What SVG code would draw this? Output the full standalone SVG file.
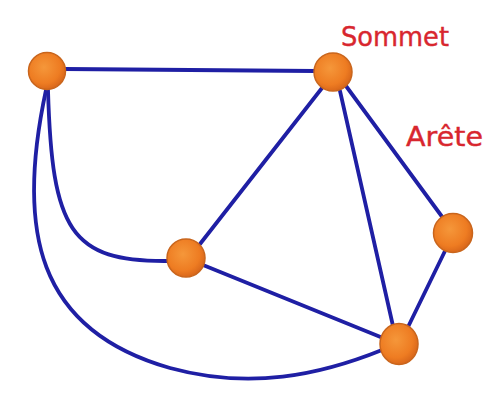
<svg xmlns="http://www.w3.org/2000/svg" width="504" height="412" viewBox="0 0 504 412">
<style>
.edge{fill:none;stroke:#1f1fa4;stroke-width:3.8;stroke-linecap:round}
.node{fill:url(#og);stroke:#c9651c;stroke-width:1.5}
.lbl{font-family:"DejaVu Sans","Liberation Sans",sans-serif;font-size:27px;fill:#d8262e;stroke:#d8262e;stroke-width:0.4}
</style>
<defs>
<radialGradient id="og" cx="0.42" cy="0.4" r="0.62">
<stop offset="0" stop-color="#f5973a"/>
<stop offset="0.7" stop-color="#ee7c22"/>
<stop offset="1" stop-color="#d8661a"/>
</radialGradient>
</defs>
<rect width="504" height="412" fill="#ffffff"/>
<g id="edges">
<path class="edge" d="M65,69 L315,71"/>
<path class="edge" d="M322,88 L200,244"/>
<path class="edge" d="M340,91 L393,326"/>
<path class="edge" d="M346,86 L443,218"/>
<path class="edge" d="M445,251 L408,327"/>
<path class="edge" d="M203,265 L383,338"/>
<path class="edge" d="M48,90 C52,230 70,262 168,261"/>
<path class="edge" d="M46,90 C16,230 36,330 170,368 C250,390 320,375 382,350"/>
</g>
<g id="node-a"><circle class="node" cx="47" cy="71" r="18.5"/></g>
<g id="node-b"><circle class="node" cx="333" cy="72" r="19"/></g>
<g id="node-c"><circle class="node" cx="186" cy="258" r="19"/></g>
<g id="node-d"><circle class="node" cx="453" cy="233" r="19.5"/></g>
<g id="node-e"><ellipse class="node" cx="399" cy="344" rx="19" ry="20.5"/></g>
<g id="labels">
<text class="lbl" x="341" y="46" textLength="108" lengthAdjust="spacingAndGlyphs">Sommet</text>
<text class="lbl" x="406" y="146" textLength="77" lengthAdjust="spacingAndGlyphs">Arête</text>
</g>
</svg>
